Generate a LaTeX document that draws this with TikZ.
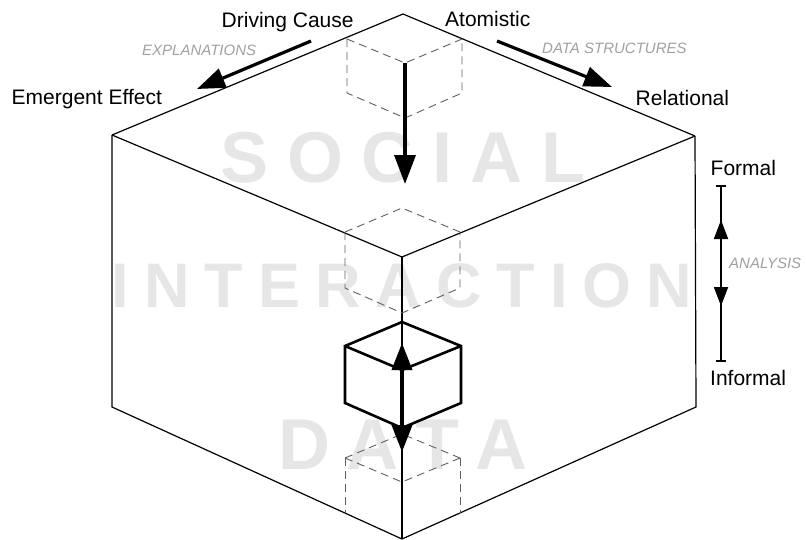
\documentclass[tikz,border=0pt]{standalone}
\usepackage{fontspec}
\setmainfont{Liberation Sans}
\usetikzlibrary{arrows.meta}

\definecolor{watermark}{RGB}{230,230,230}
\definecolor{axislabel}{RGB}{160,160,160}
\definecolor{hiddenedge}{RGB}{95,95,95}

% spread the letters of a word apart by a fixed kern
\makeatletter
\newcommand\spreadword[2]{\def\sw@sep{}\@tfor\sw@c:=#2\do{\sw@sep\sw@c\def\sw@sep{\kern#1}}}
\makeatother

\begin{document}
\begin{tikzpicture}[x=1pt,y=-1pt,
  edge/.style={line width=1.2pt, line join=miter},
  hidden/.style={hiddenedge, line width=0.9pt, dash pattern=on 8pt off 5pt},
  boxedge/.style={line width=2.6pt, line join=miter, line cap=round},
  flow/.style={line width=3.6pt, -{Triangle[length=29pt,width=21pt]}},
  twoway/.style={line width=3.6pt, {Triangle[length=27pt,width=20pt]}-{Triangle[length=27pt,width=20pt]}},
  scale bar/.style={line width=1.8pt, {Bar[width=10pt]}-{Bar[width=10pt]}},
  scale tip/.style={line width=1.8pt, -{Triangle[length=19pt,width=14pt]}},
  label/.style={inner sep=0pt, anchor=base west, font=\fontsize{21}{25}\selectfont},
  axis/.style={inner sep=0pt, anchor=base west, text=axislabel, font=\fontsize{15}{18}\selectfont\itshape},
  mark text/.style={inner sep=0pt, anchor=base, text=watermark}]
\useasboundingbox (0,0) rectangle (806,539);

% ---- large background words ----
\node[mark text, font=\fontsize{72}{80}\selectfont\bfseries] (wsocial) at (403,182) {\spreadword{18.5pt}{SOCIAL}};
\node[mark text, font=\fontsize{63}{70}\selectfont\bfseries] (winter) at (402,307) {\spreadword{15pt}{INTERACTION}};
\node[mark text, font=\fontsize{72}{80}\selectfont\bfseries] (wdata) at (403,469) {\spreadword{16.5pt}{DATA}};

% ---- outer cube ----
\coordinate (T) at (403,14);
\coordinate (L) at (112,135);
\coordinate (R) at (695,136);
\coordinate (F) at (402,257);
\coordinate (LB) at (112,407);
\coordinate (RB) at (696,407);
\coordinate (B) at (402,539);
\draw[edge] (L) -- (T) -- (R);
\draw[edge] (L) -- (F) -- (R);
\draw[edge] (L) -- (LB) -- (B) -- (RB) -- (R);
\draw[edge] (F) -- (B);

% ---- hidden cube under the top corner ----
\coordinate (a1) at (347,39);
\coordinate (a2) at (462,39);
\coordinate (ac) at (405,63);
\coordinate (a1b) at (347,93);
\coordinate (a2b) at (462,93);
\coordinate (acb) at (405,118);
\draw[hidden] (a1) -- (ac) -- (a2);
\draw[hidden] (a1) -- (a1b) -- (acb) -- (a2b) -- (a2);

% ---- hidden cube at the front corner ----
\coordinate (m0) at (402,208);
\coordinate (m1) at (345,232);
\coordinate (m2) at (460,232);
\coordinate (m1b) at (345,288);
\coordinate (m2b) at (460,288);
\coordinate (mb) at (402,313);
\draw[hidden] (m1) -- (m0) -- (m2);
\draw[hidden] (m1) -- (m1b) -- (mb) -- (m2b) -- (m2);

% ---- hidden cube at the bottom corner ----
\coordinate (d0) at (402,434);
\coordinate (d1) at (345,458);
\coordinate (d2) at (460,458);
\coordinate (dc) at (402,482);
\coordinate (d1b) at (345,513);
\coordinate (d2b) at (460,513);
\draw[hidden] (d1) -- (d0) -- (d2);
\draw[hidden] (d1) -- (dc) -- (d2);
\draw[hidden] (d1) -- (d1b);
\draw[hidden] (d2) -- (d2b);

% ---- solid cube ----
\coordinate (s0) at (402,322);
\coordinate (s1) at (345,346);
\coordinate (s2) at (461,346);
\coordinate (sc) at (402,370);
\coordinate (s1b) at (345,403);
\coordinate (s2b) at (461,403);
\coordinate (sb) at (402,428);
\draw[boxedge] (s0) -- (s1) -- (s1b) -- (sb) -- (s2b) -- (s2) -- cycle;
\draw[boxedge] (s1) -- (sc) -- (s2);

% ---- flow arrows ----
\coordinate (downtip) at (405,184);
\draw[flow] (ac) -- (downtip);
\coordinate (uptip) at (402,343);
\coordinate (lowtip) at (402,452);
\draw[twoway] (uptip) -- (lowtip);

% ---- explanations axis ----
\node[label] (cause) at (221.5,27) {Driving Cause};
\node[label] (effect) at (11.5,104) {Emergent Effect};
\node[axis] (expl) at (142,55) {EXPLANATIONS};
\coordinate (ex0) at (311,41);
\coordinate (ex1) at (197,89);
\draw[flow, line width=3.2pt, -{Triangle[length=28pt,width=20pt]}] (ex0) -- (ex1);

% ---- data structures axis ----
\node[label] (atom) at (445,26) {Atomistic};
\node[label] (rel) at (635.5,105) {Relational};
\node[axis] (dstruct) at (542,53) {DATA STRUCTURES};
\coordinate (ds0) at (497,41);
\coordinate (ds1) at (612,87);
\draw[flow, line width=3.2pt, -{Triangle[length=28pt,width=20pt]}] (ds0) -- (ds1);

% ---- analysis axis ----
\node[label] (formal) at (710.5,175) {Formal};
\node[label] (informal) at (710,385) {Informal};
\node[axis] (analysis) at (729,268) {ANALYSIS};
\coordinate (an0) at (721,185);
\coordinate (an1) at (721,362);
\coordinate (anmid) at (721,262);
\coordinate (anup) at (721,220);
\coordinate (andown) at (721,306);
\draw[scale bar] (an0) -- (an1);
\draw[scale tip] (anmid) -- (anup);
\draw[scale tip] (anmid) -- (andown);
\end{tikzpicture}
\end{document}
